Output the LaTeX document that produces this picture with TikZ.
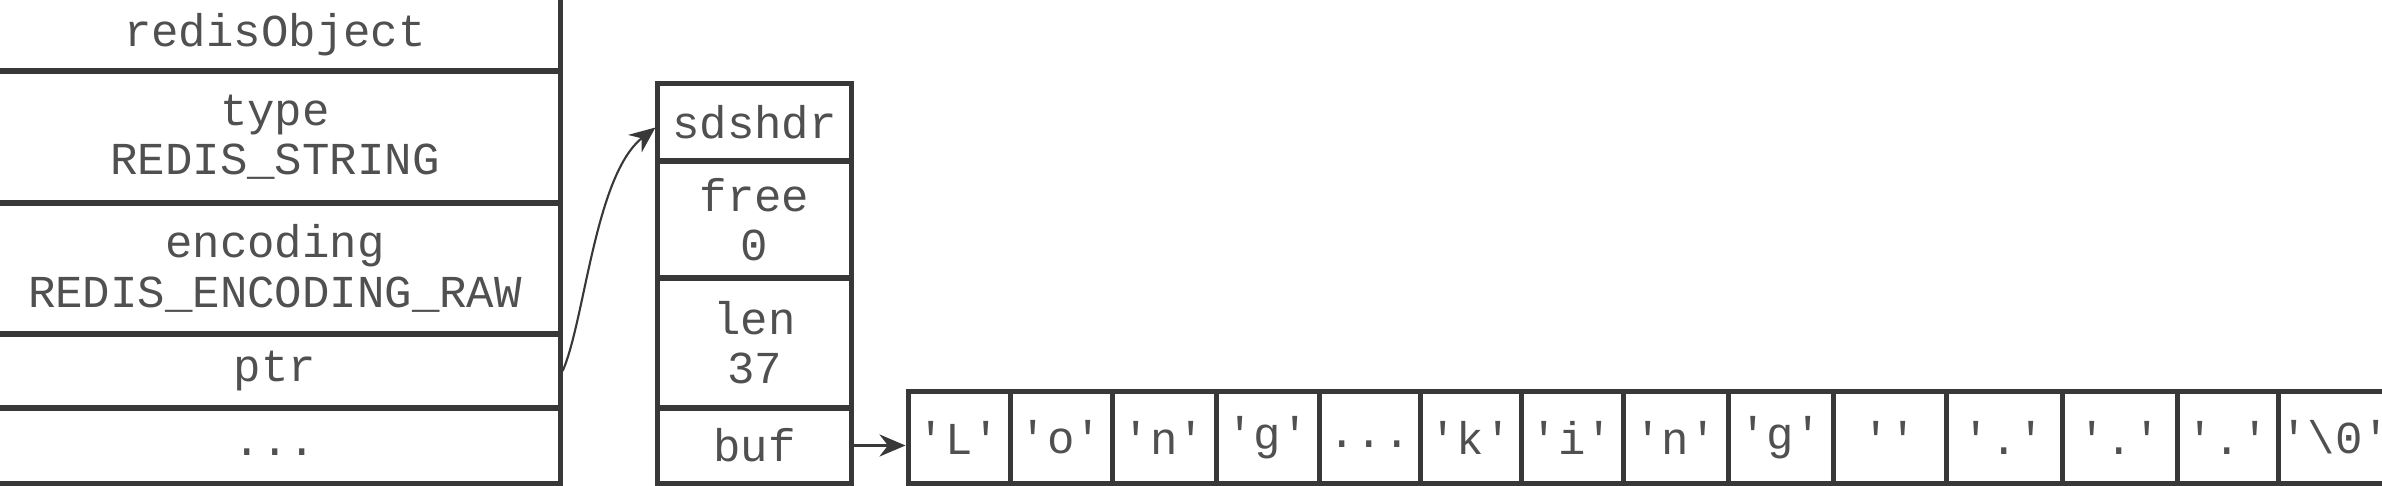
\documentclass[tikz,border=0pt]{standalone}
\usepackage{fontspec}
\setmonofont{Liberation Mono}
\usepackage{tikz}
\usetikzlibrary{arrows.meta}
\tikzset{every picture/.append style={font=\ttfamily\fontsize{13}{14}\selectfont}}
\definecolor{figink}{HTML}{383838}
\definecolor{figtext}{HTML}{505050}
\newcommand\elided{\vphantom{Ag}...}
\tikzset{
  field/.style={draw=figink, line width=0.05cm, text=figtext, inner sep=0pt, align=center},
  ptrline/.style={draw=figink, line width=0.6pt, -{Stealth[length=0.26cm,width=0.22cm]}},
  bufline/.style={draw=figink, line width=0.9pt, -{Stealth[length=0.26cm,width=0.22cm]}}
}

\begin{document}
\begin{tikzpicture}[x=0.01cm,y=-0.01cm]
    \useasboundingbox (0,0) rectangle (2382,486);
    \clip (0,0) rectangle (2382,486);
    % redisObject
    \node[field,minimum width=5.7cm,minimum height=0.73cm] (obj) at (275,34.5) {redisObject};
    \node[field,minimum width=5.7cm,minimum height=1.32cm] (type) at (275,137) {type\\REDIS\_STRING};
    \node[field,minimum width=5.7cm,minimum height=1.31cm] (enc) at (275,268.5) {encoding\\REDIS\_ENCODING\_RAW};
    \node[field,minimum width=5.7cm,minimum height=0.74cm] (ptr) at (275,371) {ptr};
    \node[field,minimum width=5.7cm,minimum height=0.75cm] (more) at (275,445.5) {\elided};
    % sdshdr
    \node[field,minimum width=1.93cm,minimum height=0.77cm] (sds) at (754.5,122.5) {sdshdr};
    \node[field,minimum width=1.93cm,minimum height=1.17cm] (free) at (754.5,219.5) {free\\0};
    \node[field,minimum width=1.93cm,minimum height=1.30cm] (len) at (754.5,343) {len\\37};
    \node[field,minimum width=1.93cm,minimum height=0.75cm] (buf) at (754.5,445.5) {buf};
    % buf contents
    \foreach \l/\r/\ch [count=\i] in {908/1010/'L', 1010/1112/'o', 1112/1216/'n', 1216/1319/'g',
        1319/1420/\elided, 1420/1521/'k', 1521/1623/'i', 1623/1728/'n', 1728/1833/'g', 1833/1946/'',
        1946/2062/'.', 2062/2177/'.', 2177/2278/'.', 2278/2392/'\textbackslash 0'}
      \node[field,minimum width={(\r-\l)*0.01cm},minimum height=0.91cm] (c\i) at ({(\l+\r)/2},437.5) {\ch};

    \draw[ptrline] (ptr.east) .. controls (585,320) and (595,175) .. ([yshift=-0.05cm]sds.west);
    \draw[bufline] (buf.east) -- (buf.east -| c1.west);
  \end{tikzpicture}
\end{document}
